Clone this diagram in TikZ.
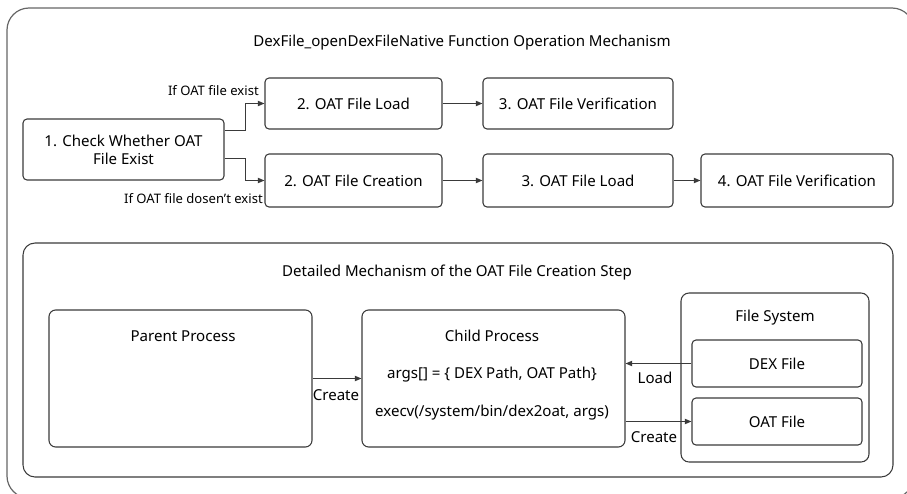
\documentclass[tikz,border=0pt]{standalone}
\usepackage{fontspec}
\setmainfont{Noto Sans}
\usetikzlibrary{arrows.meta,calc}
\definecolor{edge}{HTML}{3A3A3A}
\definecolor{frameedge}{HTML}{666666}
\tikzset{
  box/.style={draw=edge, line width=0.8pt, rounded corners=3pt, inner sep=0pt,
              align=center, font=\fontsize{11.3}{13.5}\selectfont},
  panel/.style={draw=edge, line width=0.8pt, rounded corners=9pt, inner sep=0pt},
  arr/.style={draw=edge, line width=0.75pt, -{Triangle[length=5pt,width=4pt]}},
  txt/.style={inner sep=0pt, font=\fontsize{11.3}{13.5}\selectfont},
  small/.style={inner sep=0pt, font=\fontsize{9.8}{11.5}\selectfont},
}
\begin{document}
\begin{tikzpicture}[x=0.75pt,y=-0.75pt]
\useasboundingbox (0,0) rectangle (907,493);
\clip (0,0) rectangle (907,493);

% outer frame, running past the right and bottom edges
\draw[frameedge, line width=0.9pt, rounded corners=16.5pt] (7,8) rectangle (914,498);
\node[txt] (t1) at (462,43) {DexFile\_openDexFileNative Function Operation Mechanism};

% upper flow
\node[box, minimum width=201*0.75pt, minimum height=61*0.75pt] (chk) at (123.5,149.5) {1. Check Whether OAT\\File Exist};
\node[box, minimum width=177*0.75pt, minimum height=51*0.75pt] (load1) at (353.5,103.5) {2. OAT File Load};
\node[box, minimum width=190*0.75pt, minimum height=51*0.75pt] (ver1) at (578,103.5) {3. OAT File Verification};
\node[box, minimum width=177*0.75pt, minimum height=53*0.75pt] (create) at (353.5,180.5) {2. OAT File Creation};
\node[box, minimum width=190*0.75pt, minimum height=53*0.75pt] (load2) at (578,180.5) {3. OAT File Load};
\node[box, minimum width=192*0.75pt, minimum height=53*0.75pt] (ver2) at (797,180.5) {4. OAT File Verification};

\draw[arr] ([yshift=13.9pt]chk.east) -- ++(21,0) |- (load1.west);
\draw[arr] ([yshift=-7.1pt]chk.east) -- ++(21,0) |- (create.west);
\draw[arr] (load1) -- (ver1);
\draw[arr] (create) -- (load2);
\draw[arr] (load2) -- (ver2);

\node[small, anchor=east] (lyes) at (259,91) {If OAT file exist};
\node[small, anchor=east] (lno) at (263,199) {If OAT file dosen't exist};

% lower panel
\node[panel, minimum width=870*0.75pt, minimum height=234*0.75pt] (detail) at (458,360) {};
\node[txt] (t2) at (457,273) {Detailed Mechanism of the OAT File Creation Step};

\node[panel, rounded corners=5pt, minimum width=263*0.75pt, minimum height=137*0.75pt] (parent) at (180.5,378.5) {};
\node[txt] (ptitle) at (183,336) {Parent Process};

\node[panel, rounded corners=5pt, minimum width=263*0.75pt, minimum height=137*0.75pt] (child) at (493.5,378.5) {};
\node[txt] (ctitle) at (492,336) {Child Process};
\node[txt] (cargs) at (492,375) {args[] = \{ DEX Path, OAT Path\}};
\node[txt] (cexec) at (492,413) {execv(/system/bin/dex2oat, args)};

\node[panel, rounded corners=6pt, minimum width=188*0.75pt, minimum height=169*0.75pt] (fs) at (775,377.5) {};
\node[txt] (fstitle) at (775,318) {File System};
\node[box, minimum width=170*0.75pt, minimum height=47*0.75pt] (dex) at (777,363.5) {DEX File};
\node[box, minimum width=170*0.75pt, minimum height=47*0.75pt] (oat) at (777,421.5) {OAT File};

\draw[arr] (parent.east) -- (child.west);
\draw[arr] (dex.west) -- (dex.west -| child.east);
\draw[arr] (oat.west -| child.east) -- (oat.west);

\node[txt] (lcreate1) at (336,395) {Create};
\node[txt] (lload) at (655,378) {Load};
\node[txt] (lcreate2) at (654,437) {Create};
\end{tikzpicture}
\end{document}
